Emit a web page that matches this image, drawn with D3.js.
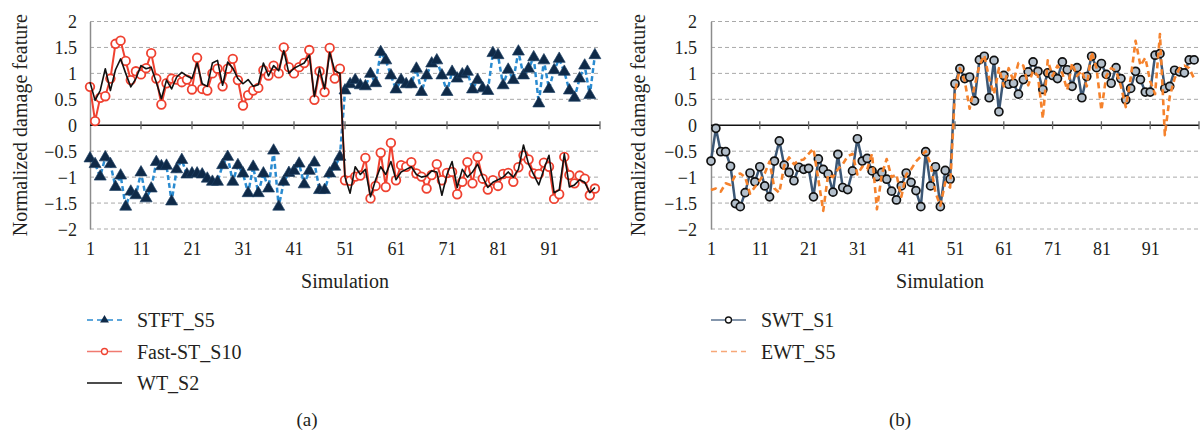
<!DOCTYPE html>
<html>
<head>
<meta charset="utf-8">
<script src="https://cdn.jsdelivr.net/npm/d3@7"></script>
<style>
  body { margin: 0; background: #fff; }
  svg, svg text { font-family: "Liberation Serif", "DejaVu Serif", serif; }
  svg text { fill: #231f20; }
</style>
</head>
<body>
<svg id="chart" width="1204" height="434"></svg>
<script>
// x categories (simulation number) and axis ticks
const simulations = d3.range(1, 101)
const tickCats = [1, 11, 21, 31, 41, 51, 61, 71, 81, 91]
const yTicks = [2, 1.5, 1, 0.5, 0, -0.5, -1, -1.5, -2]

// panel (a)
const stftS5 = [
  -0.64, -0.75, -0.99, -0.62, -0.75, -1.19, -0.97, -1.57, -1.28, -1.35,
  -0.91, -1.41, -1.22, -0.71, -0.79, -0.78, -1.47, -0.85, -0.67, -0.95,
  -0.93, -0.93, -0.95, -1.03, -1.09, -1.09, -0.77, -0.61, -1.09, -0.77,
  -0.93, -1.31, -0.8, -1.31, -0.93, -1.22, -0.49, -1.57, -1.09, -0.92,
  -0.88, -0.74, -1.14, -0.88, -0.72, -1.25, -1.25, -0.93, -0.8, -0.61,
  0.67, 0.79, 0.87, 0.77, 0.75, 0.99, 0.81, 1.41, 1.25, 0.96,
  0.69, 0.87, 0.79, 0.79, 1.09, 0.64, 0.96, 1.19, 1.25, 0.96,
  0.64, 1.03, 0.9, 0.98, 1.03, 0.69, 0.87, 0.71, 0.66, 1.39,
  1.35, 0.77, 1.07, 0.87, 1.42, 0.96, 1.09, 1.31, 0.42, 1.25,
  0.7, 1.06, 1.28, 1.03, 0.67, 0.53, 0.9, 1.15, 0.58, 1.35
]
const fastStS10 = [
  0.74, 0.08, 0.53, 0.56, 0.9, 1.57, 1.63, 1.24, 0.87, 1.04,
  0.98, 1.1, 1.39, 0.9, 0.4, 0.81, 0.9, 0.88, 0.83, 0.88,
  0.69, 1.3, 0.7, 0.67, 1.0, 1.09, 0.75, 1.09, 1.28, 0.87,
  0.38, 0.58, 0.67, 0.72, 1.06, 0.96, 1.15, 1.0, 1.5, 1.12,
  1.0, 1.12, 1.2, 1.45, 0.49, 1.04, 0.64, 1.49, 0.9, 1.09,
  -1.06, -1.07, -0.99, -0.97, -0.63, -1.41, -1.17, -0.53, -1.19, -0.34,
  -1.06, -0.77, -0.8, -0.71, -0.93, -0.99, -1.22, -0.96, -0.75, -1.06,
  -0.92, -0.9, -1.33, -1.09, -0.71, -1.12, -0.61, -1.03, -1.24, -1.06,
  -1.17, -0.94, -0.92, -1.09, -0.81, -0.58, -0.66, -0.93, -0.94, -0.72,
  -0.8, -1.42, -1.33, -0.61, -0.96, -1.12, -0.97, -1.03, -1.35, -1.22
]
const wtS2 = [
  0.83, 0.48, 0.67, 1.09, 0.67, 1.07, 1.28, 1.0, 0.74, 0.9,
  1.15, 1.09, 1.12, 0.83, 0.51, 0.87, 0.7, 0.93, 1.02, 0.95,
  0.9, 1.2, 0.8, 0.75, 1.2, 1.25, 0.77, 1.22, 1.1, 0.9,
  0.8, 0.88, 0.75, 0.78, 1.2, 0.95, 1.15, 1.05, 1.44, 1.0,
  1.1, 1.15, 1.2, 1.35, 0.55, 1.1, 0.7, 1.4, 1.05, 1.0,
  -1.0, -1.31, -0.8, -0.95, -0.85, -1.38, -1.05, -0.8, -0.95, -0.7,
  -1.05, -0.9, -0.85, -0.8, -0.95, -1.0, -0.98, -0.88, -0.9, -1.35,
  -0.95, -0.7, -1.2, -0.85, -1.0, -0.9, -0.75, -1.0, -1.2, -1.1,
  -1.05, -1.0, -0.9, -1.0, -0.85, -0.38, -0.75, -0.95, -1.15, -0.85,
  -0.58, -1.3, -1.25, -0.55, -1.19, -1.15, -1.05, -1.1, -1.3, -1.2
]

// panel (b)
const swtS1 = [
  -0.69, -0.06, -0.51, -0.51, -0.79, -1.51, -1.57, -1.3, -0.92, -1.09,
  -0.8, -1.17, -1.38, -0.69, -0.3, -0.77, -0.91, -1.07, -0.81, -0.85,
  -0.83, -1.38, -0.65, -0.85, -0.94, -1.29, -0.56, -1.2, -1.24, -0.88,
  -0.26, -0.69, -0.64, -0.88, -0.99, -0.91, -1.04, -1.27, -1.44, -1.17,
  -0.92, -1.1, -1.26, -1.57, -0.51, -1.17, -0.8, -1.57, -0.87, -1.04,
  0.8, 1.09, 0.9, 0.93, 0.47, 1.26, 1.33, 0.53, 1.25, 0.26,
  0.96, 0.79, 0.81, 0.6, 0.88, 1.03, 1.22, 1.04, 0.69, 1.01,
  0.96, 0.9, 1.22, 1.07, 0.75, 1.11, 0.53, 0.94, 1.33, 1.11,
  1.19, 0.98, 0.81, 1.11, 0.9, 0.49, 0.71, 1.04, 0.88, 0.64,
  0.64, 1.35, 1.38, 0.71, 0.75, 1.06, 1.03, 1.01, 1.26, 1.26
]
const ewtS5 = [
  -1.25, -1.22, -1.28, -1.12, -1.15, -0.96, -0.93, -1.0, -1.32, -1.19,
  -1.06, -0.93, -0.7, -1.22, -1.3, -0.78, -0.62, -0.75, -0.68, -0.66,
  -0.55, -0.45, -1.05, -1.65, -0.95, -1.0, -0.85, -0.75, -0.6, -0.55,
  -0.95, -0.8, -0.85, -0.55, -1.62, -0.95, -0.65, -1.0, -0.95, -1.38,
  -0.95, -0.85, -0.7, -0.6, -0.5, -0.75, -1.3, -1.55, -1.1, -1.2,
  0.64, 1.1, 0.85, 0.32, 0.75, 1.15, 1.35, 0.9, 0.6, 1.1,
  0.75, 1.1, 0.85, 1.2, 1.15, 0.77, 1.05, 0.95, 0.13, 1.25,
  0.95, 1.15, 1.0, 0.68, 1.2, 0.95, 1.05, 0.75, 1.41, 1.1,
  0.29, 0.95, 1.1, 1.05, 0.75, 0.35, 0.9, 1.63, 1.15, 1.3,
  0.85, 0.6, 1.76, -0.19, 0.55, 0.9, 1.1, 1.15, 1.1, 0.9
]

const serif = '"Liberation Serif", "DejaVu Serif", serif'
const svg = d3.select("#chart").style("font-family", serif)
const yTop = 21.5
const yBottom = 229

// Draw one panel: grid, axes, series, legend
function drawPanel(cfg) {
  const x = d3.scaleLinear().domain([1, 101]).range([cfg.left, cfg.right])
  const y = d3.scaleLinear().domain([-2, 2]).range([yBottom, yTop])
  const g = svg.append("g")

  // dashed gridlines
  g.selectAll(".grid")
    .data(yTicks.filter(d => d !== 0))
    .enter()
    .append("line")
      .attr("x1", cfg.left).attr("x2", cfg.right)
      .attr("y1", d => y(d)).attr("y2", d => y(d))
      .attr("stroke", "#a9a9a9")
      .attr("stroke-width", 1)
      .attr("stroke-dasharray", "4,3")

  // y-axis
  const yAxis = d3.axisLeft(y)
                  .tickValues(yTicks)
                  .tickSize(0)
                  .tickPadding(cfg.yPad)
                  .tickFormat(d3.format(""))
  const ya = g.append("g")
    .attr("transform", `translate(${cfg.left}, 0)`)
    .call(yAxis)
    .attr("font-family", serif)
  ya.select(".domain").attr("stroke", "#8c8c8c").attr("stroke-width", 1.5)
  ya.selectAll("text")
    .style("font-family", serif)
    .style("font-size", "18px")
    .attr("dy", "0.34em")

  // y-axis title
  g.append("text")
    .attr("transform", `translate(${cfg.titleX}, ${(yTop + yBottom) / 2}) rotate(-90)`)
    .attr("text-anchor", "middle")
    .attr("dy", "0.35em")
    .style("font-family", serif)
    .style("font-size", "20px")
    .text("Normalized damage feature")

  // zero line with cross ticks
  g.append("line")
    .attr("x1", cfg.left).attr("x2", cfg.right)
    .attr("y1", y(0)).attr("y2", y(0))
    .attr("stroke", "#111").attr("stroke-width", 1.3)
  g.selectAll(".xtick")
    .data(tickCats.slice(1).concat([101]))
    .enter()
    .append("line")
      .attr("x1", d => x(d)).attr("x2", d => x(d))
      .attr("y1", y(0) - 4).attr("y2", y(0) + 4)
      .attr("stroke", "#666").attr("stroke-width", 1.3)

  // x tick labels below the plot
  const xAxis = d3.axisBottom(x)
                  .tickValues(tickCats)
                  .tickSize(0)
                  .tickPadding(13)
                  .tickFormat(d3.format("d"))
  const xa = g.append("g")
    .attr("transform", `translate(0, ${yBottom})`)
    .call(xAxis)
    .attr("font-family", serif)
  xa.select(".domain").remove()
  xa.selectAll("text").style("font-family", serif).style("font-size", "18px")

  g.append("text")
    .attr("x", cfg.simX)
    .attr("y", 288)
    .attr("text-anchor", "middle")
    .style("font-family", serif)
    .style("font-size", "20px")
    .text("Simulation")

  g.append("text")
    .attr("x", cfg.labelX)
    .attr("y", 426)
    .attr("text-anchor", "middle")
    .style("font-family", serif)
    .style("font-size", "19px")
    .text(cfg.label)

  // series
  cfg.series.forEach(s => {
    const line = d3.line()
                   .x((d, i) => x(simulations[i]))
                   .y(d => y(d))
    g.append("path")
      .datum(s.values)
      .attr("fill", "none")
      .attr("stroke", s.color)
      .attr("stroke-width", s.width)
      .attr("stroke-dasharray", s.dash || null)
      .attr("stroke-linejoin", "round")
      .attr("d", line)

    if (s.marker === "triangle") {
      g.selectAll(null)
        .data(s.values)
        .enter()
        .append("path")
          .attr("d", d3.symbol(d3.symbolTriangle).size(62))
          .attr("transform", (d, i) => `translate(${x(simulations[i])}, ${y(d)})`)
          .attr("fill", s.markerColor)
          .attr("stroke", "#1d3f63")
          .attr("stroke-width", 0.7)
    } else if (s.marker === "circle") {
      g.selectAll(null)
        .data(s.values)
        .enter()
        .append("circle")
          .attr("cx", (d, i) => x(simulations[i]))
          .attr("cy", d => y(d))
          .attr("r", s.r)
          .attr("fill", s.markerFill)
          .attr("stroke", s.markerColor)
          .attr("stroke-width", s.markerWidth)
    }
  })

  // legend
  cfg.series.forEach((s, i) => {
    const ly = 320 + i * 31.5
    const lx = cfg.legendX
    g.append("line")
      .attr("x1", lx).attr("x2", lx + 35)
      .attr("y1", ly).attr("y2", ly)
      .attr("stroke", s.legendColor || s.color)
      .attr("stroke-width", 1.7)
      .attr("stroke-dasharray", s.dash ? "6,4" : null)
    if (s.marker === "triangle") {
      g.append("path")
        .attr("d", d3.symbol(d3.symbolTriangle).size(34))
        .attr("transform", `translate(${lx + 17.5}, ${ly})`)
        .attr("fill", s.markerColor)
    } else if (s.marker === "circle") {
      g.append("circle")
        .attr("cx", lx + 17.5).attr("cy", ly).attr("r", 3)
        .attr("fill", "#fff")
        .attr("stroke", s.markerColor).attr("stroke-width", 1.3)
    }
    g.append("text")
      .attr("x", lx + 50)
      .attr("y", ly)
      .attr("dy", "0.35em")
      .style("font-family", serif)
      .style("font-size", "20px")
      .text(s.name)
  })
}

drawPanel({
  left: 90, right: 600, yPad: 13, titleX: 20, legendX: 87, simX: 345, labelX: 307, label: "(a)",
  series: [
    { name: "STFT_S5", values: stftS5, color: "#2a8bd0", width: 2.5, dash: "5,3",
      marker: "triangle", markerColor: "#0f2a48" },
    { name: "Fast-ST_S10", values: fastStS10, color: "#ef4130", width: 2, legendColor: "#f07a70",
      marker: "circle", markerColor: "#ef4130", markerFill: "#fff", r: 4.3, markerWidth: 1.8 },
    { name: "WT_S2", values: wtS2, color: "#111", width: 1.6 }
  ]
})

drawPanel({
  left: 711, right: 1199, yPad: 14, titleX: 638, legendX: 711, simX: 940, labelX: 900, label: "(b)",
  series: [
    { name: "SWT_S1", values: swtS1, color: "#3c5775", width: 2.5, legendColor: "#5b7390",
      marker: "circle", markerColor: "#111", markerFill: "#b3bfcb", r: 4, markerWidth: 1.7 },
    { name: "EWT_S5", values: ewtS5, color: "#f5822c", width: 2.6, dash: "6,4", legendColor: "#f7a878" }
  ]
})
</script>
</body>
</html>
